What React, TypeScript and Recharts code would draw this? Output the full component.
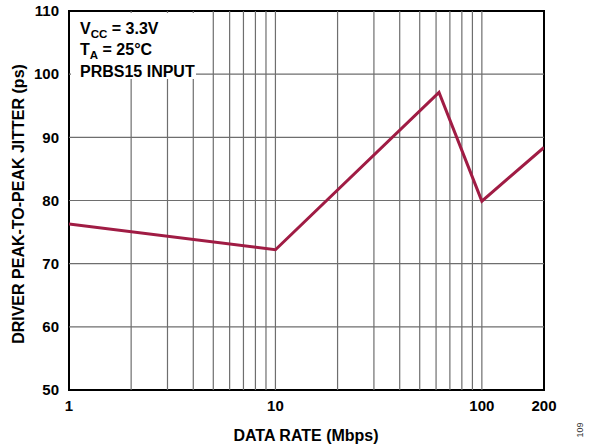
import { LineChart, Line, XAxis, YAxis, ReferenceLine, ReferenceArea } from 'recharts';

// data rate (Mbps) vs driver peak-to-peak jitter (ps)
const rates = [1, 10, 62, 100, 200];
const jitter = [76.3, 72.2, 97.1, 79.9, 88.4];

const xTicks = [1, 10, 100, 200];
const yTicks = [50, 60, 70, 80, 90, 100, 110];
const gridX = [2, 3, 4, 5, 6, 7, 8, 9, 10, 20, 30, 40, 50, 60, 70, 80, 90, 100];
const gridY = [60, 70, 80, 90, 100];

const data = rates.map((r, i) => ({ rate: r, jitter: jitter[i] }));

const FONT = '"Liberation Sans", Arial, sans-serif';
const LINE_COLOR = '#A01C44';
const GRID_COLOR = '#6e6e6e';

export default function App() {
  return (
    <div style={{ position: 'absolute', left: 0, top: 0, width: 589, height: 446, background: '#fff' }}>
      <LineChart width={589} height={446} data={data} margin={{ top: 11, right: 45, left: 0, bottom: 0 }}>
        <XAxis
          dataKey="rate"
          type="number"
          scale="log"
          domain={[1, 200]}
          ticks={xTicks}
          allowDataOverflow
          height={56}
          tickLine={false}
          axisLine={false}
          tickSize={8}
          tick={{ fontSize: 15, fontWeight: 700, fill: '#000', fontFamily: FONT }}
        />
        <YAxis
          type="number"
          domain={[50, 110]}
          ticks={yTicks}
          width={69}
          tickLine={false}
          axisLine={false}
          tickSize={8}
          tick={{ fontSize: 15, fontWeight: 700, fill: '#000', fontFamily: FONT }}
        />
        {gridX.map((v) => (
          <ReferenceLine key={'x' + v} x={v} stroke={GRID_COLOR} strokeWidth={1.2} />
        ))}
        {gridY.map((v) => (
          <ReferenceLine key={'y' + v} y={v} stroke={GRID_COLOR} strokeWidth={1.2} />
        ))}
        <ReferenceArea x1={1} x2={200} y1={50} y2={110} fill="none" stroke="#000" strokeWidth={2} />
        <Line
          dataKey="jitter"
          stroke={LINE_COLOR}
          strokeWidth={3}
          dot={false}
          isAnimationActive={false}
        />
      </LineChart>
      <svg
        width={589}
        height={446}
        style={{ position: 'absolute', left: 0, top: 0, pointerEvents: 'none' }}
        fontFamily={FONT}
        fontWeight={700}
      >
        <rect x={71} y={13} width={125} height={66} fill="#fff" />
        <text x={80} y={34} fontSize={16}>
          V<tspan fontSize={11.5} dy={4}>CC</tspan>
          <tspan dy={-4}> = 3.3V</tspan>
        </text>
        <text x={80} y={55} fontSize={16}>
          T<tspan fontSize={11.5} dy={4}>A</tspan>
          <tspan dy={-4}> = 25°C</tspan>
        </text>
        <text x={80} y={77} fontSize={16}>PRBS15 INPUT</text>
        <text x={306} y={441} fontSize={16} textAnchor="middle">DATA RATE (Mbps)</text>
        <text
          transform="translate(24,204) rotate(-90)"
          fontSize={16}
          textAnchor="middle"
        >
          DRIVER PEAK-TO-PEAK JITTER (ps)
        </text>
        <text
          transform="translate(583,430) rotate(-90)"
          fontSize={9}
          fontWeight={400}
          textAnchor="middle"
          fill="#333"
        >
          109
        </text>
      </svg>
    </div>
  );
}
